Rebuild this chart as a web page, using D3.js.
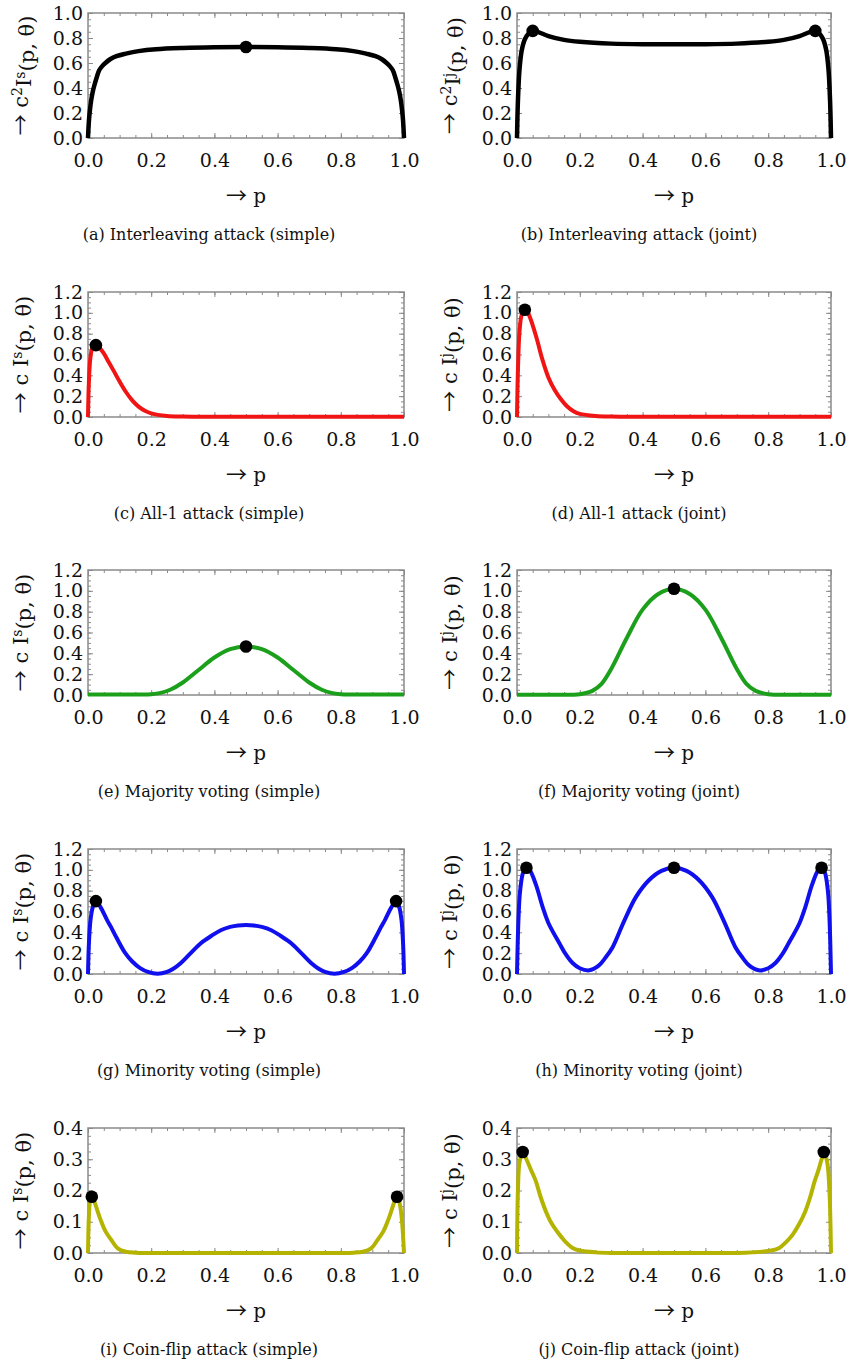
<!DOCTYPE html>
<html><head><meta charset="utf-8">
<script src="https://cdn.jsdelivr.net/npm/d3@7"></script>
<style>body{margin:0;background:#fff}svg{display:block}text{font-family:"DejaVu Serif",serif;fill:#111}</style>
</head><body><svg id="c" width="852" height="1362"></svg>
<script>
// ---- data ----
const xTicks = [0, 0.2, 0.4, 0.6, 0.8, 1.0];
const yTicksA = [0, 0.2, 0.4, 0.6, 0.8, 1.0];
const yTicksB = [0, 0.2, 0.4, 0.6, 0.8, 1.0, 1.2];
const yTicksC = [0, 0.1, 0.2, 0.3, 0.4];

const pA = [0,0.003,0.006,0.01,0.015,0.02,0.027,0.035,0.045,0.055,0.07,0.09,0.12,0.16,0.215,0.3,0.4,0.5,0.6,0.7,0.785,0.84,0.88,0.91,0.93,0.945,0.955,0.965,0.973,0.98,0.985,0.99,0.994,0.997,1];
const vA = [0,0.14,0.22,0.3,0.37,0.42,0.48,0.54,0.575,0.6,0.63,0.655,0.675,0.695,0.71,0.72,0.726,0.728,0.726,0.72,0.71,0.695,0.675,0.655,0.63,0.6,0.575,0.54,0.48,0.42,0.37,0.3,0.22,0.14,0];
const dotsA = [[0.5,0.728]];

const pB = [0,0.003,0.008,0.015,0.025,0.035,0.05,0.07,0.1,0.15,0.2,0.3,0.4,0.5,0.6,0.7,0.8,0.85,0.9,0.93,0.95,0.965,0.975,0.985,0.992,0.997,1];
const vB = [0,0.3,0.55,0.7,0.79,0.83,0.857,0.845,0.815,0.785,0.77,0.755,0.75,0.75,0.75,0.755,0.77,0.785,0.815,0.845,0.857,0.83,0.79,0.7,0.55,0.3,0];
const dotsB = [[0.05,0.857],[0.95,0.857]];

const pC = [0,0.003,0.008,0.015,0.025,0.035,0.05,0.065,0.08,0.1,0.12,0.14,0.16,0.18,0.2,0.25,0.3,0.4,0.6,0.8,1];
const vC = [0,0.35,0.58,0.67,0.69,0.67,0.61,0.53,0.45,0.34,0.24,0.16,0.1,0.06,0.035,0.01,0.004,0.002,0.002,0.002,0.002];
const dotsC = [[0.025,0.69]];

const pD = [0,0.003,0.008,0.015,0.025,0.035,0.05,0.065,0.08,0.1,0.12,0.14,0.16,0.18,0.2,0.25,0.3,0.4,0.6,0.8,1];
const vD = [0,0.45,0.82,0.98,1.03,1.0,0.88,0.73,0.56,0.38,0.26,0.17,0.1,0.055,0.03,0.01,0.004,0.002,0.002,0.002,0.002];
const dotsD = [[0.025,1.03]];

const pE = [0,0.1,0.2,0.23,0.26,0.3,0.35,0.4,0.45,0.5,0.55,0.6,0.65,0.7,0.74,0.77,0.8,0.9,1];
const vE = [0.004,0.004,0.008,0.02,0.05,0.12,0.24,0.36,0.44,0.465,0.44,0.36,0.24,0.12,0.05,0.02,0.008,0.004,0.004];
const dotsE = [[0.5,0.465]];

const pF = [0,0.1,0.2,0.24,0.27,0.3,0.35,0.4,0.45,0.5,0.55,0.6,0.65,0.7,0.73,0.76,0.8,0.9,1];
const vF = [0.003,0.003,0.008,0.04,0.11,0.25,0.55,0.82,0.97,1.02,0.97,0.82,0.55,0.25,0.11,0.04,0.008,0.003,0.003];
const dotsF = [[0.5,1.02]];

const pG = [0,0.003,0.008,0.015,0.025,0.04,0.06,0.073,0.09,0.118,0.14,0.165,0.19,0.22,0.25,0.27,0.294,0.325,0.357,0.39,0.42,0.45,0.475,0.5,0.525,0.55,0.58,0.61,0.643,0.675,0.706,0.73,0.75,0.78,0.81,0.835,0.86,0.882,0.91,0.927,0.94,0.96,0.975,0.985,0.992,0.997,1];
const vG = [0,0.3,0.52,0.64,0.70,0.64,0.52,0.45,0.35,0.2,0.12,0.057,0.02,0.003,0.02,0.05,0.105,0.2,0.295,0.365,0.42,0.452,0.466,0.47,0.466,0.452,0.42,0.365,0.295,0.2,0.105,0.05,0.02,0.003,0.02,0.057,0.12,0.2,0.35,0.45,0.52,0.64,0.70,0.64,0.52,0.3,0];
const dotsG = [[0.025,0.70],[0.975,0.70]];

const pH = [0,0.005,0.01,0.02,0.03,0.04,0.06,0.082,0.1,0.135,0.155,0.177,0.2,0.23,0.26,0.28,0.305,0.34,0.379,0.42,0.46,0.5,0.54,0.58,0.621,0.66,0.695,0.72,0.74,0.77,0.8,0.823,0.845,0.865,0.9,0.918,0.94,0.96,0.97,0.98,0.99,0.995,1];
const vH = [0,0.55,0.8,0.98,1.02,1.0,0.86,0.64,0.49,0.295,0.19,0.105,0.055,0.035,0.08,0.15,0.26,0.5,0.74,0.9,0.99,1.02,0.99,0.9,0.74,0.5,0.26,0.15,0.08,0.035,0.055,0.105,0.19,0.295,0.49,0.64,0.86,1.0,1.02,0.98,0.8,0.55,0];
const dotsH = [[0.03,1.02],[0.5,1.02],[0.97,1.02]];

const pI = [0,0.003,0.007,0.012,0.02,0.03,0.04,0.055,0.073,0.094,0.12,0.15,0.2,0.5,0.8,0.84,0.87,0.896,0.917,0.935,0.95,0.96,0.97,0.978,0.986,0.993,1];
const vI = [0,0.12,0.17,0.18,0.165,0.135,0.106,0.07,0.043,0.015,0.004,0.001,0,0,0,0.001,0.004,0.015,0.043,0.07,0.106,0.135,0.165,0.18,0.16,0.11,0];
const dotsI = [[0.012,0.18],[0.978,0.18]];

const pJ = [0,0.003,0.008,0.018,0.03,0.045,0.06,0.075,0.092,0.11,0.135,0.155,0.177,0.2,0.25,0.3,0.5,0.7,0.75,0.81,0.835,0.857,0.878,0.9,0.918,0.934,0.948,0.96,0.97,0.978,0.988,0.995,1];
const vJ = [0,0.2,0.29,0.323,0.3,0.265,0.23,0.18,0.133,0.095,0.059,0.035,0.016,0.008,0.002,0,0,0,0.002,0.008,0.016,0.035,0.059,0.095,0.133,0.18,0.23,0.265,0.3,0.323,0.29,0.2,0];
const dotsJ = [[0.018,0.323],[0.977,0.323]];

const captions = ["(a) Interleaving attack (simple)","(b) Interleaving attack (joint)",
  "(c) All-1 attack (simple)","(d) All-1 attack (joint)",
  "(e) Majority voting (simple)","(f) Majority voting (joint)",
  "(g) Minority voting (simple)","(h) Minority voting (joint)",
  "(i) Coin-flip attack (simple)","(j) Coin-flip attack (joint)"];
const colors = ["#000000","#000000","#f01414","#f01414","#1ca01c","#1ca01c","#1010ee","#1010ee","#b4b400","#b4b400"];

// ---- layout ----
const panels = [
  {p:pA,v:vA,dots:dotsA,yt:yTicksA,ymax:1.0,minor:0.05,sq:true,sup:"s"},
  {p:pB,v:vB,dots:dotsB,yt:yTicksA,ymax:1.0,minor:0.05,sq:true,sup:"j"},
  {p:pC,v:vC,dots:dotsC,yt:yTicksB,ymax:1.2,minor:0.05,sq:false,sup:"s"},
  {p:pD,v:vD,dots:dotsD,yt:yTicksB,ymax:1.2,minor:0.05,sq:false,sup:"j"},
  {p:pE,v:vE,dots:dotsE,yt:yTicksB,ymax:1.2,minor:0.05,sq:false,sup:"s"},
  {p:pF,v:vF,dots:dotsF,yt:yTicksB,ymax:1.2,minor:0.05,sq:false,sup:"j"},
  {p:pG,v:vG,dots:dotsG,yt:yTicksB,ymax:1.2,minor:0.05,sq:false,sup:"s"},
  {p:pH,v:vH,dots:dotsH,yt:yTicksB,ymax:1.2,minor:0.05,sq:false,sup:"j"},
  {p:pI,v:vI,dots:dotsI,yt:yTicksC,ymax:0.4,minor:0.025,sq:false,sup:"s"},
  {p:pJ,v:vJ,dots:dotsJ,yt:yTicksC,ymax:0.4,minor:0.025,sq:false,sup:"j"}
];
const colX = [[88,404],[517,831]];
const rowBottom = [138,417,695,974,1253];
const H = 125;
const svg = d3.select("#c");
const frameColor = "#8a8a8a";

function arrow(sel, size){
  sel.append("tspan").style("font-family","'Noto Sans CJK SC',sans-serif").style("font-size", size+"px").text("\u2192");
}

panels.forEach((pn, i) => {
  const col = i % 2, row = Math.floor(i / 2);
  const [x0, x1] = colX[col];
  const yb = rowBottom[row], yt = yb - H;
  const W = x1 - x0;
  const g = svg.append("g").attr("transform", `translate(${x0},${yt})`);
  const x = d3.scaleLinear().domain([0,1]).range([0,W]);
  const y = d3.scaleLinear().domain([0,pn.ymax]).range([H,0]);
  const xMinor = d3.range(0, 1.0001, 0.05).map(d => +d.toFixed(3));
  const yMinor = d3.range(0, pn.ymax + 1e-6, pn.minor).map(d => +d.toFixed(3));
  const fmt = d3.format(".1f");
  function style(sel){ sel.select(".domain").remove(); sel.selectAll("line").attr("stroke",frameColor).attr("stroke-width",1); sel.selectAll("text").style("font-size","19px").attr("fill","#111"); }
  g.append("g").attr("transform",`translate(0,${H})`).call(d3.axisBottom(x).tickValues(xMinor).tickSize(-3).tickFormat("")).call(style);
  g.append("g").call(d3.axisTop(x).tickValues(xMinor).tickSize(-3).tickFormat("")).call(style);
  g.append("g").call(d3.axisLeft(y).tickValues(yMinor).tickSize(-3).tickFormat("")).call(style);
  g.append("g").attr("transform",`translate(${W},0)`).call(d3.axisRight(y).tickValues(yMinor).tickSize(-3).tickFormat("")).call(style);
  g.append("g").attr("transform",`translate(0,${H})`).call(d3.axisBottom(x).tickValues(xTicks).tickSize(-5).tickPadding(16).tickFormat(fmt)).call(style);
  g.append("g").call(d3.axisTop(x).tickValues(xTicks).tickSize(-5).tickFormat("")).call(style);
  g.append("g").call(d3.axisLeft(y).tickValues(pn.yt).tickSize(-5).tickPadding(5).tickFormat(fmt)).call(style);
  g.append("g").attr("transform",`translate(${W},0)`).call(d3.axisRight(y).tickValues(pn.yt).tickSize(-5).tickFormat("")).call(style);
  g.append("rect").attr("width",W).attr("height",H).attr("fill","none").attr("stroke",frameColor).attr("stroke-width",1.5);
  const data = pn.p.map((p, k) => [p, pn.v[k]]);
  const line = d3.line().x(d => x(d[0])).y(d => y(d[1])).curve(d3.curveCatmullRom.alpha(0.5));
  g.append("path").datum(data).attr("d", line).attr("fill","none")
    .attr("stroke", colors[i]).attr("stroke-width", row===0 ? 4.5 : 4)
    .attr("stroke-linejoin","round").attr("stroke-linecap","butt");
  g.selectAll("circle.dot").data(pn.dots).enter().append("circle").attr("class","dot")
    .attr("cx", d => x(d[0])).attr("cy", d => y(d[1])).attr("r", 6.3).attr("fill","#000");
  const xl = g.append("text").attr("x", W/2).attr("y", H + 65).attr("text-anchor","middle").style("font-size","20px");
  arrow(xl, 21); xl.append("tspan").text(" p");
  const yl = g.append("text").attr("transform",`translate(-60,${H/2}) rotate(-90)`).attr("text-anchor","middle").style("font-size","21px");
  arrow(yl, 21);
  yl.append("tspan").text(" c");
  if (pn.sq) { yl.append("tspan").attr("dy","-0.45em").style("font-size","14px").text("2"); yl.append("tspan").attr("dy","0.45em").text("I"); }
  else { yl.append("tspan").text(" I"); }
  yl.append("tspan").attr("dy","-0.45em").style("font-size","14px").text(pn.sup);
  yl.append("tspan").attr("dy","0.45em").text("(p, \u03b8)");
  svg.append("text").attr("x", col===0 ? 209 : 639).attr("y", yb + 102).attr("text-anchor","middle")
    .style("font-size","16px").text(captions[i]);
});
</script></body></html>
